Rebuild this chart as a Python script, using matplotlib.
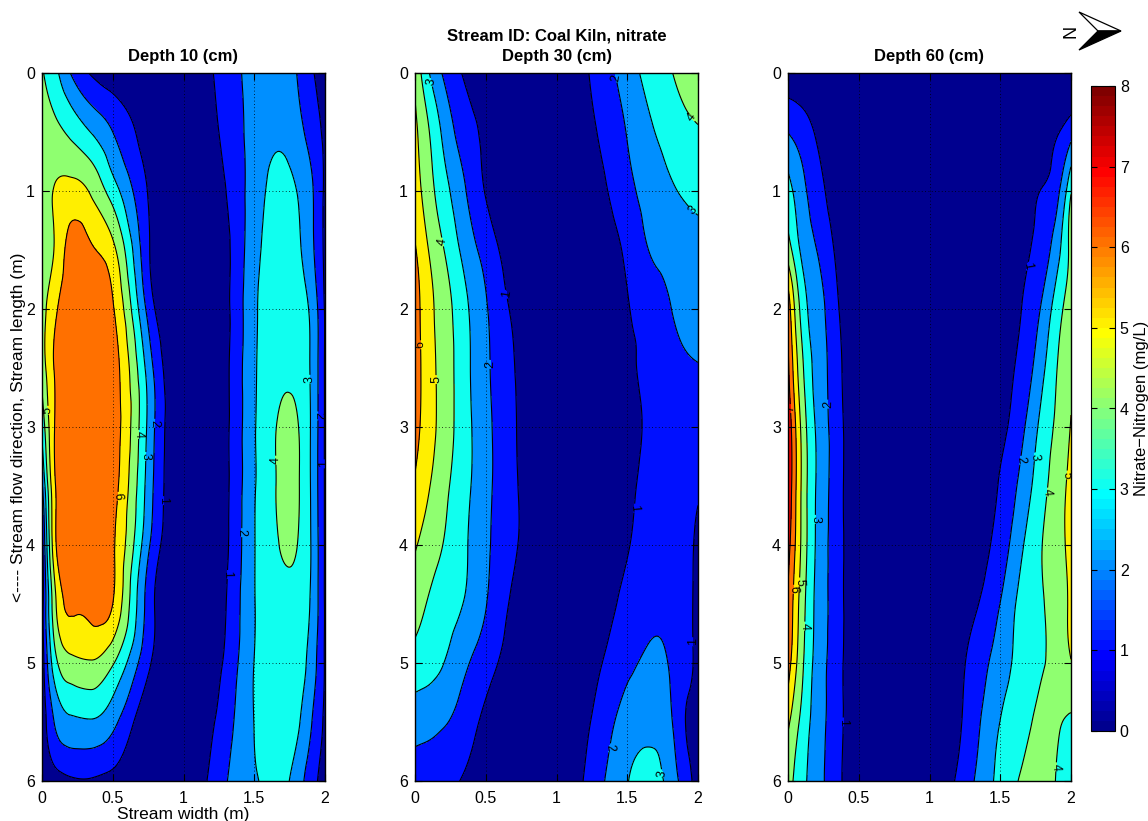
import numpy as np
import matplotlib
matplotlib.use("Agg")
import matplotlib.pyplot as plt
import matplotlib.tri as mtri
from matplotlib.colors import ListedColormap, Normalize
from matplotlib.cm import ScalarMappable
from matplotlib.patches import Polygon
from matplotlib.ticker import FormatStrFormatter, FixedLocator

plt.rcParams["font.family"] = ["Liberation Sans", "DejaVu Sans"]

# Sampling positions across the stream (m) and along the stream (m)
width_m = [0, 0.1, 0.2, 0.35, 0.5, 0.75, 1.0, 1.25, 1.5, 1.65, 1.8, 1.9, 2.0]
length_m = [0, 0.5, 1.0, 1.5, 2.0, 2.5, 3.0, 3.5, 4.0, 4.5, 5.0, 5.5, 6.0]

# Nitrate-N (mg/L), one row per stream-length position
depth10 = [
    [4.1, 3.2, 2.0, 0.9, 0.4, 0.2, 0.2, 1.2, 2.4, 2.7, 2.0, 1.15, 0.6],
    [4.5, 4.25, 3.8, 2.95, 2.0, 0.55, 0.2, 1.0, 2.4, 2.85, 2.4, 1.6, 0.8],
    [4.6, 5.1, 5.35, 4.85, 3.5, 0.95, 0.2, 0.7, 2.5, 3.25, 3.0, 2.2, 0.8],
    [4.5, 5.2, 6.35, 6.1, 5.3, 1.15, 0.1, 0.4, 2.65, 3.4, 3.2, 2.3, 0.8],
    [4.6, 5.9, 6.6, 6.55, 6.1, 1.7, 0.0, 0.35, 2.8, 3.6, 3.55, 2.8, 0.9],
    [4.4, 6.2, 6.7, 6.7, 6.5, 2.6, 0.0, 0.35, 2.85, 3.75, 3.75, 2.9, 0.9],
    [3.3, 6.2, 6.7, 6.7, 6.55, 2.8, 0.0, 0.35, 2.9, 3.97, 4.08, 2.95, 0.9],
    [1.8, 6.1, 6.7, 6.7, 6.45, 2.6, 0.0, 0.35, 2.9, 3.98, 4.12, 2.95, 0.9],
    [0.6, 6.0, 6.6, 6.55, 6.15, 2.2, 0.0, 0.4, 2.95, 3.9, 4.02, 3.0, 0.9],
    [0.5, 5.0, 6.15, 6.35, 6.0, 1.6, 0.0, 0.55, 2.95, 3.7, 3.7, 2.9, 0.9],
    [0.4, 3.8, 4.7, 4.9, 4.1, 1.2, 0.0, 0.8, 3.02, 3.65, 3.5, 2.6, 0.9],
    [0.3, 2.2, 2.8, 2.9, 2.3, 0.2, 0.0, 1.2, 3.02, 3.5, 3.2, 2.1, 0.8],
    [0.2, 0.6, 0.85, 0.9, 0.7, 0.2, 0.1, 1.6, 2.9, 3.2, 2.6, 1.4, 0.7],
]

depth30 = [
    [4.8, 3.02, 1.9, 0.9, 0.4, 0.2, 0.3, 1.1, 2.5, 3.3, 3.9, 4.4, 4.8],
    [5.2, 4.02, 2.8, 1.5, 0.8, 0.3, 0.2, 0.85, 2.05, 2.8, 3.4, 3.7, 3.9],
    [5.5, 4.4, 3.4, 2.1, 0.95, 0.4, 0.2, 0.55, 1.7, 2.35, 2.85, 3.1, 3.25],
    [6.1, 4.95, 4.05, 2.7, 1.6, 0.3, 0.2, 0.35, 1.2, 2.0, 2.35, 2.55, 2.7],
    [6.45, 5.3, 4.5, 3.25, 2.1, 0.6, 0.2, 0.3, 0.95, 1.35, 1.95, 2.25, 2.4],
    [6.5, 5.4, 4.6, 3.35, 2.2, 0.8, 0.2, 0.3, 0.85, 1.2, 1.65, 1.85, 1.95],
    [6.35, 5.4, 4.6, 3.4, 2.3, 0.85, 0.2, 0.3, 0.8, 1.1, 1.45, 1.5, 1.45],
    [5.85, 5.05, 4.3, 3.3, 2.3, 0.9, 0.2, 0.3, 0.85, 1.2, 1.45, 1.35, 1.1],
    [5.1, 4.5, 3.98, 3.15, 2.2, 0.9, 0.2, 0.35, 0.95, 1.35, 1.55, 1.3, 0.85],
    [4.4, 3.9, 3.5, 2.95, 2.05, 0.6, 0.2, 0.45, 1.25, 1.7, 1.8, 1.35, 0.8],
    [3.6, 3.35, 3.02, 2.2, 1.4, 0.4, 0.2, 0.7, 1.75, 2.15, 1.95, 1.4, 0.75],
    [2.4, 2.3, 2.1, 1.5, 0.8, 0.3, 0.3, 1.05, 2.45, 2.7, 2.2, 1.1, 0.7],
    [1.6, 1.5, 1.3, 0.9, 0.5, 0.2, 0.2, 1.4, 2.95, 3.5, 2.6, 1.6, 0.6],
]

depth60 = [
    [0.3, 0.2, 0.2, 0.2, 0.2, 0.2, 0.2, 0.2, 0.2, 0.2, 0.2, 0.2, 0.2],
    [1.97, 1.5, 0.9, 0.3, 0.2, 0.2, 0.2, 0.2, 0.2, 0.2, 0.5, 0.9, 1.6],
    [3.4, 2.3, 1.45, 0.5, 0.2, 0.2, 0.2, 0.2, 0.2, 0.45, 1.05, 1.7, 3.9],
    [4.5, 2.8, 2.02, 0.8, 0.2, 0.2, 0.2, 0.2, 0.25, 0.75, 1.5, 2.6, 4.3],
    [6.6, 3.6, 2.5, 1.1, 0.2, 0.2, 0.2, 0.2, 0.4, 1.0, 2.2, 3.5, 4.6],
    [7.2, 4.2, 2.7, 1.3, 0.2, 0.2, 0.2, 0.2, 0.6, 1.3, 2.8, 3.98, 4.85],
    [7.8, 4.7, 2.9, 1.4, 0.2, 0.2, 0.2, 0.2, 0.75, 1.75, 3.35, 4.2, 5.05],
    [7.9, 4.8, 2.95, 1.4, 0.2, 0.2, 0.2, 0.3, 1.1, 2.3, 3.7, 4.5, 5.25],
    [7.4, 4.75, 2.9, 1.4, 0.2, 0.2, 0.2, 0.35, 1.45, 2.85, 4.02, 4.6, 5.3],
    [6.9, 4.45, 2.8, 1.4, 0.2, 0.2, 0.2, 0.6, 2.02, 3.3, 3.95, 4.5, 5.15],
    [6.5, 4.2, 2.7, 1.35, 0.2, 0.2, 0.2, 0.98, 2.5, 3.4, 3.95, 4.3, 4.95],
    [5.2, 3.7, 2.55, 1.35, 0.2, 0.2, 0.2, 1.15, 3.02, 3.7, 4.2, 4.1, 3.85],
    [4.4, 3.3, 2.45, 1.25, 0.25, 0.2, 0.3, 1.5, 3.3, 4.1, 4.3, 3.95, 3.5],
]

panel_titles = ["Depth 10 (cm)", "Stream ID: Coal Kiln, nitrate\nDepth 30 (cm)", "Depth 60 (cm)"]
contour_levels = [1, 2, 3, 4, 5, 6, 7]
x_ticks = [0, 0.5, 1, 1.5, 2]
y_ticks = [0, 1, 2, 3, 4, 5, 6]
cbar_ticks = [0, 1, 2, 3, 4, 5, 6, 7, 8]


def matlab_jet(m=64):
    n = int(np.ceil(m / 4))
    u = np.concatenate([np.arange(1, n + 1) / n, np.ones(n - 1), np.arange(n, 0, -1) / n])
    g = int(np.ceil(n / 2)) - (1 if m % 4 == 1 else 0) + np.arange(1, len(u) + 1)
    out = np.zeros((m, 3))
    for idx, ch in ((g + n, 0), (g, 1), (g - n, 2)):
        ok = (idx >= 1) & (idx <= m)
        out[idx[ok] - 1, ch] = u[ok]
    return out


jet64 = matlab_jet(64)
cmap = ListedColormap(jet64)
# each band is painted with the colour of its lower bound on a 0-8 scale
band_colors = [jet64[8 * k] for k in range(8)]
fill_levels = [-100] + contour_levels + [100]

W = 1148.0
H = 821.0
fig = plt.figure(figsize=(W / 100, H / 100), dpi=100)

panel_left_px = [42, 415, 788]
X, Y = np.meshgrid(width_m, length_m)
tri = mtri.Triangulation(X.ravel(), Y.ravel())
refiner = mtri.UniformTriRefiner(tri)

for i, (data, title) in enumerate(zip([depth10, depth30, depth60], panel_titles)):
    ax = fig.add_axes([panel_left_px[i] / W, (H - 781) / H, 283 / W, 708 / H])
    z = np.asarray(data, dtype=float).ravel()
    tri_f, z_f = refiner.refine_field(z, subdiv=4)
    ax.tricontourf(tri_f, z_f, levels=fill_levels, colors=band_colors, zorder=1)
    cs = ax.tricontour(tri_f, z_f, levels=contour_levels, colors="k", linewidths=0.8, zorder=2)
    ax.clabel(cs, fmt="%d", fontsize=9, inline=True, inline_spacing=1)
    ax.set_xlim(0, 2)
    ax.set_ylim(6, 0)
    ax.xaxis.set_major_locator(FixedLocator(x_ticks))
    ax.yaxis.set_major_locator(FixedLocator(y_ticks))
    ax.xaxis.set_major_formatter(FormatStrFormatter("%g"))
    ax.set_axisbelow(False)
    ax.grid(True, linestyle=(0, (1, 3)), color="k", linewidth=0.6)
    ax.tick_params(direction="in", top=True, right=True, length=5, width=0.8,
                   labelsize=11.5)
    ax.tick_params(axis="x", pad=7)
    ax.tick_params(axis="y", pad=5)
    for s in ax.spines.values():
        s.set_linewidth(1.0)
    ax.set_title(title, fontsize=12, fontweight="bold", pad=9, linespacing=1.42)
    if i == 0:
        ax.set_xlabel("Stream width (m)", fontsize=12.5, labelpad=1)
        ax.set_ylabel("<---- Stream flow direction, Stream length (m)", fontsize=12.5, labelpad=0)

cax = fig.add_axes([1091 / W, (H - 731) / H, 24 / W, 645 / H])
sm = ScalarMappable(norm=Normalize(0, 8), cmap=cmap)
cb = fig.colorbar(sm, cax=cax, ticks=cbar_ticks)
cb.outline.set_linewidth(0.8)
cax.tick_params(direction="in", left=True, right=True, length=4, width=0.8, labelsize=11.5)
cb.set_label("Nitrate\u2212Nitrogen (mg/L)", fontsize=12, labelpad=4)

# north arrow
over = fig.add_axes([0, 0, 1, 1], facecolor="none")
over.set_xlim(0, W)
over.set_ylim(H, 0)
over.axis("off")
over.add_patch(Polygon([(1079, 12), (1121, 31), (1098, 31)], closed=True,
                       facecolor="white", edgecolor="k", linewidth=0.9))
over.add_patch(Polygon([(1079, 50), (1121, 31), (1098, 31)], closed=True,
                       facecolor="k", edgecolor="k", linewidth=0.9))
over.text(1071, 31, "N", rotation=90, ha="center", va="center", fontsize=13)

fig.savefig("out.png", dpi=100)
